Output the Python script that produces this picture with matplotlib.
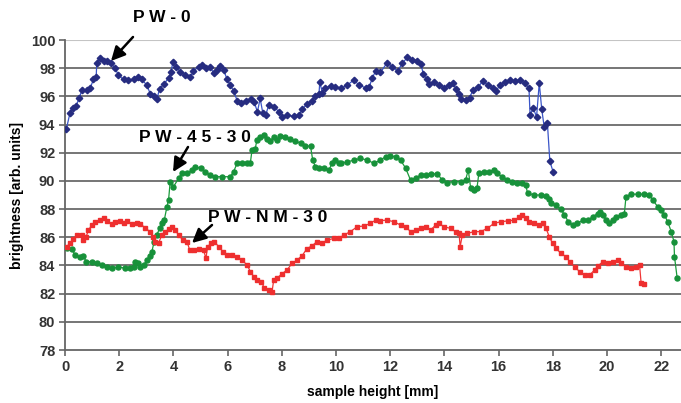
import matplotlib
matplotlib.use("Agg")
import matplotlib.pyplot as plt
from matplotlib.patches import FancyArrowPatch

plt.rcParams['font.family'] = ['Liberation Sans', 'DejaVu Sans']

# PW-0 (blue)
pw0_x = [0.05, 0.18, 0.28, 0.4, 0.53, 0.62, 0.8, 0.93, 1.05, 1.15, 1.17, 1.29, 1.42, 1.56, 1.69, 1.85, 1.97,
         2.16, 2.34, 2.53, 2.71, 2.83, 3.02, 3.14, 3.27, 3.39, 3.49, 3.64, 3.82, 3.91, 3.98, 4.1, 4.25, 4.44,
         4.62, 4.74, 4.93, 5.05, 5.21, 5.36, 5.48, 5.6, 5.73, 5.85, 5.98, 6.1, 6.23, 6.35, 6.48, 6.67, 6.86,
         6.98, 7.1, 7.2, 7.3, 7.4, 7.52, 7.71, 7.9, 8.02, 8.2, 8.44, 8.63, 8.75, 8.94, 9.12, 9.24, 9.37, 9.4,
         9.5, 9.6, 9.8, 9.98, 10.17, 10.41, 10.66, 10.85, 11.1, 11.22, 11.34, 11.46, 11.64, 11.89, 12.08,
         12.27, 12.45, 12.63, 12.82, 13.0, 13.13, 13.22, 13.35, 13.44, 13.62, 13.8, 13.99, 14.17, 14.3, 14.43,
         14.54, 14.63, 14.8, 14.93, 15.05, 15.24, 15.42, 15.6, 15.79, 15.92, 16.04, 16.23, 16.41, 16.6, 16.78,
         16.97, 17.12, 17.16, 17.28, 17.4, 17.5, 17.59, 17.68, 17.8, 17.89, 18.01]
pw0_y = [93.7, 94.8, 95.2, 95.3, 95.9, 96.45, 96.45, 96.6, 97.2, 97.4, 98.35, 98.7, 98.5, 98.5, 98.35, 98.0, 97.5,
         97.2, 97.15, 97.2, 97.35, 97.2, 96.8, 96.2, 96.0, 95.8, 96.55, 96.85, 97.3, 97.7, 98.45, 98.1, 97.75, 97.5,
         97.35, 97.8, 98.1, 98.2, 98.0, 98.1, 97.65, 97.9, 98.15, 97.9, 97.2, 96.8, 96.35, 95.7, 95.55, 95.7, 95.8,
         95.6, 94.9, 95.85, 94.8, 94.65, 95.4, 95.25, 94.9, 94.55, 94.65, 94.6, 94.65, 95.1, 95.45, 95.7, 96.0, 96.15, 97.0,
         96.25, 96.6, 96.75, 96.65, 96.57, 96.8, 97.16, 96.8, 96.6, 96.65, 97.3, 97.8, 97.7, 98.4, 98.1,
         97.8, 98.35, 98.77, 98.6, 98.5, 98.3, 97.6, 97.2, 96.9, 97.0, 96.8, 96.6, 96.8, 96.95, 96.5,
         96.2, 95.8, 95.75, 95.9, 96.45, 96.65, 97.1, 96.8, 96.6, 96.4, 96.8, 97.0, 97.15, 97.1, 97.15,
         96.95, 96.57, 94.7, 95.15, 94.55, 96.95, 95.1, 93.85, 94.1, 91.4, 90.65]

# PW-45-30 (green)
pw45_x = [0.06, 0.25, 0.37, 0.55, 0.68, 0.78, 0.99, 1.17, 1.36, 1.54, 1.73, 1.97, 2.22, 2.4, 2.53, 2.59, 2.71,
          2.77, 2.9, 3.02, 3.12, 3.2, 3.29, 3.39, 3.49, 3.58, 3.66, 3.76, 3.82, 3.88, 4.0, 4.19, 4.31, 4.5, 4.7,
          4.8, 5.0, 5.18, 5.36, 5.55, 5.8, 6.1, 6.22, 6.35, 6.53, 6.72, 6.84, 6.9, 7.02, 7.08, 7.2, 7.33, 7.45,
          7.57, 7.7, 7.82, 7.94, 8.13, 8.3, 8.5, 8.69, 8.87, 9.06, 9.14, 9.24, 9.37, 9.55, 9.74, 9.86, 9.98,
          10.1, 10.17, 10.41, 10.66, 10.9, 11.15, 11.4, 11.64, 11.83, 12.0, 12.2, 12.38, 12.57, 12.75, 12.94,
          13.13, 13.31, 13.5, 13.74, 13.92, 14.1, 14.35, 14.6, 14.78, 14.88, 14.97, 15.09, 15.2, 15.27, 15.45,
          15.64, 15.82, 15.94, 16.13, 16.32, 16.5, 16.69, 16.87, 17.0, 17.07, 17.32, 17.56, 17.75, 17.87, 17.93,
          18.1, 18.3, 18.43, 18.57, 18.73, 18.9, 19.1, 19.28, 19.47, 19.65, 19.75, 19.84, 19.96, 20.09, 20.21,
          20.33, 20.52, 20.64, 20.7, 20.88, 21.13, 21.38, 21.56, 21.69, 21.87, 21.99, 22.12, 22.24, 22.37,
          22.47, 22.49, 22.59]
pw45_y = [85.22, 85.2, 84.74, 84.6, 84.65, 84.27, 84.27, 84.15, 84.03, 83.9, 83.8, 83.9, 83.8, 83.8, 83.9, 84.27, 84.15,
          83.9, 84.0, 84.4, 84.65, 84.95, 85.7, 86.16, 86.64, 87.0, 87.2, 88.17, 88.64, 89.94, 89.58, 90.18, 90.54, 90.54, 90.78,
          91.0, 90.9, 90.66, 90.42, 90.3, 90.3, 90.3, 90.66, 91.25, 91.25, 91.25, 91.3, 92.2, 92.3, 92.9, 93.15, 93.26, 92.96,
          92.8, 93.15, 92.9, 93.2, 93.15, 92.96, 92.8, 92.7, 92.5, 92.45, 91.48, 91.0, 90.9, 90.9, 90.8, 91.25, 91.45,
          91.25, 91.25, 91.35, 91.48, 91.6, 91.48, 91.25, 91.48, 91.72, 91.77, 91.72, 91.48, 90.9, 90.06, 90.2,
          90.42, 90.42, 90.5, 90.5, 90.06, 89.88, 89.95, 89.95, 90.06, 90.78, 89.47, 89.36, 89.47, 90.54, 90.6,
          90.66, 90.78, 90.54, 90.3, 90.1, 89.95, 89.83, 89.83, 89.7, 89.12, 89.0, 89.0, 88.9, 88.7, 88.4,
          88.3, 87.98, 87.6, 87.1, 86.87, 86.98, 87.2, 87.2, 87.45, 87.68, 87.81, 87.57, 87.22, 86.98, 87.22,
          87.45, 87.57, 87.68, 88.89, 89.06, 89.06, 89.06, 89.0, 88.64, 88.17, 87.93, 87.57, 87.1, 86.4,
          85.7, 84.62, 83.09]

# PW-NM-30 (red)
pwnm_x = [0.06, 0.18, 0.31, 0.43, 0.62, 0.68, 0.78, 0.86, 0.99, 1.11, 1.3, 1.42, 1.54, 1.73, 1.85, 2.03, 2.16,
          2.28, 2.47, 2.65, 2.77, 2.96, 3.12, 3.24, 3.33, 3.45, 3.57, 3.7, 3.82, 3.94, 4.07, 4.19, 4.35, 4.5,
          4.6, 4.75, 4.93, 5.11, 5.2, 5.26, 5.39, 5.51, 5.67, 5.83, 5.98, 6.16, 6.35, 6.53, 6.72, 6.84, 6.97,
          7.09, 7.24, 7.36, 7.52, 7.64, 7.7, 7.82, 8.0, 8.19, 8.38, 8.56, 8.75, 8.93, 9.12, 9.3, 9.49, 9.67,
          9.92, 10.1, 10.29, 10.53, 10.78, 11.03, 11.27, 11.46, 11.64, 11.89, 12.14, 12.38, 12.57, 12.75, 12.94,
          13.12, 13.31, 13.49, 13.68, 13.8, 13.98, 14.23, 14.41, 14.54, 14.58, 14.66, 14.85, 15.1, 15.34, 15.58,
          15.83, 16.08, 16.33, 16.58, 16.77, 16.88, 17.0, 17.13, 17.31, 17.5, 17.62, 17.75, 17.87, 17.99, 18.12,
          18.3, 18.49, 18.62, 18.8, 18.99, 19.17, 19.36, 19.54, 19.66, 19.85, 20.04, 20.22, 20.4, 20.53, 20.71,
          20.9, 21.08, 21.2, 21.26, 21.38]
pwnm_y = [85.33, 85.57, 85.9, 86.16, 86.16, 85.8, 86.04, 86.5, 86.87, 87.1, 87.22, 87.34, 87.16, 86.93, 87.1, 87.16, 87.0,
          87.16, 86.93, 87.04, 86.93, 86.69, 86.4, 86.04, 85.7, 85.57, 86.16, 86.4, 86.57, 86.75, 86.5, 86.16, 85.8, 85.7,
          85.1, 85.1, 85.2, 85.1, 84.5, 85.33, 85.57, 85.7, 85.33, 84.98, 84.74, 84.74, 84.62, 84.38, 84.03, 83.56, 83.2,
          82.97, 82.85, 82.38, 82.26, 82.14, 82.97, 83.09, 83.4, 83.68, 84.15, 84.38, 84.7, 85.2, 85.4, 85.7, 85.6, 85.8,
          85.92, 85.92, 86.16, 86.4, 86.75, 86.8, 86.99, 87.22, 87.18, 87.22, 87.1, 86.87, 86.75, 86.4, 86.52,
          86.63, 86.75, 86.52, 86.87, 86.99, 86.75, 86.63, 86.4, 86.28, 85.33, 86.16, 86.28, 86.4, 86.4, 86.63,
          86.99, 87.1, 87.16, 87.22, 87.45, 87.57, 87.34, 87.1, 86.99, 86.87, 86.99, 86.63, 86.04, 85.57, 85.21,
          84.86, 84.62, 84.27, 83.91, 83.56, 83.32, 83.32, 83.68, 83.96, 84.27, 84.15, 84.27, 84.38, 84.15, 83.91,
          83.8, 83.91, 84.03, 82.73, 82.68]

x_ticks = [0, 2, 4, 6, 8, 10, 12, 14, 16, 18, 20, 22]
y_ticks = [78, 80, 82, 84, 86, 88, 90, 92, 94, 96, 98, 100]

fig = plt.figure(figsize=(6.81, 4.03), dpi=100)
ax = fig.add_axes([0.0955, 0.1315, 0.9045, 0.7692])

ax.plot(pw0_x, pw0_y, color='#3a55c8', lw=0.9, marker='D', ms=3.3,
        mfc='#262c80', mec='#262c80', zorder=3)
ax.plot(pw45_x, pw45_y, color='#1a9a3a', lw=0.9, marker='o', ms=3.6,
        mfc='#17913a', mec='#17913a', zorder=3)
ax.plot(pwnm_x, pwnm_y, color='#f03535', lw=0.9, marker='s', ms=2.7,
        mfc='#ee2f2f', mec='#ee2f2f', zorder=3)

ax.set_xlim(0, 22.73)
ax.set_ylim(78, 100)
ax.set_xticks(x_ticks)
ax.set_yticks(y_ticks)
ax.set_yticklabels([str(v) for v in y_ticks])

for v in y_ticks[1:-1]:
    ax.axhline(v, color='#6a6a6a', lw=1.3, zorder=1)
ax.axhline(100, color='#c4c4c4', lw=1.5, zorder=1)

for s in ['top', 'right']:
    ax.spines[s].set_visible(False)
for s in ['left', 'bottom']:
    ax.spines[s].set_color('#666666')
    ax.spines[s].set_linewidth(1.3)

ax.tick_params(axis='both', direction='out', length=4, width=1.2, color='#666666',
               labelsize=10.5, labelcolor='#333333', pad=3)
for lab in ax.get_xticklabels() + ax.get_yticklabels():
    lab.set_fontweight('bold')

ax.set_xlabel('sample height [mm]', fontsize=10, fontweight='bold', labelpad=8)
ax.set_ylabel('brightness [arb. units]', fontsize=10, fontweight='bold', labelpad=5)

def px(xp, yp):
    return (xp / 681.0, 1 - yp / 403.0)

lab_kw = dict(fontsize=12.5, fontweight='bold', ha='center', va='center', color='black')
fig.text(*px(162, 18), 'P W - 0', **lab_kw)
fig.text(*px(195, 137), 'P W - 4 5 - 3 0', **lab_kw)
fig.text(*px(268, 218), 'P W - N M - 3 0', **lab_kw)

for (x0, y0, x1, y1) in [(133, 37, 111, 61), (188, 147, 173, 172), (212, 225, 192, 243)]:
    fig.add_artist(FancyArrowPatch(px(x0, y0), px(x1, y1), transform=fig.transFigure,
                                   arrowstyle='-|>,head_length=0.7,head_width=0.35',
                                   mutation_scale=12, color='black', lw=1.8,
                                   shrinkA=0, shrinkB=0))

fig.savefig('out.png', dpi=100)
